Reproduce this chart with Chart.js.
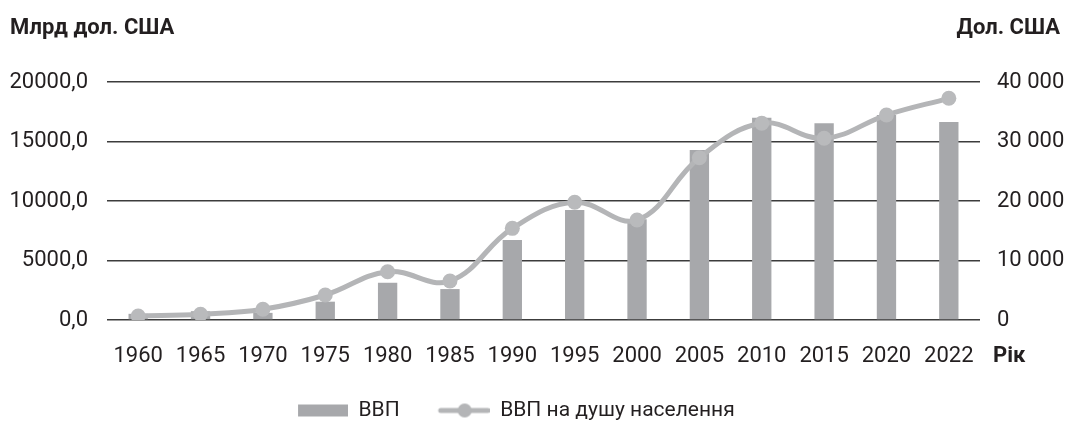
<!DOCTYPE html>
<html>
<head>
<meta charset="utf-8">
<script src="https://cdn.jsdelivr.net/npm/chart.js@4"></script>
<style>
  html, body { margin: 0; padding: 0; background: #fff; }
  #wrap { width: 1067px; height: 422px; }
</style>
</head>
<body>
<div id="wrap"><canvas id="myChart" width="1067" height="422"></canvas></div>
<script>
const years = ['1960','1965','1970','1975','1980','1985','1990','1995','2000','2005','2010','2015','2020','2022'];
const gdp = [520, 740, 600, 1540, 3130, 2600, 6720, 9240, 8460, 14290, 17000, 16530, 17230, 16640];
const gdpPerCapita = [670, 960, 1800, 4200, 8120, 6550, 15400, 19780, 16800, 27280, 33060, 30540, 34450, 37260];
const leftTicks = [0, 5000, 10000, 15000, 20000];
const rightTicks = [0, 10000, 20000, 30000, 40000];

const barColor = '#a7a8ab';
const lineColor = '#b4b5b7';
const gridColor = '#3c3c3c';
const textColor = '#231f20';
const font = 'Roboto';

// legend icons, 80px wide box, mark sits at the right end
function rectIcon(){
    const c = document.createElement('canvas');
    c.width = 80; c.height = 14;
    const g = c.getContext('2d');
    g.fillStyle = barColor;
    g.fillRect(30, 1, 50, 12);
    return c;
}
function lineIcon(){
    const c = document.createElement('canvas');
    c.width = 80; c.height = 16;
    const g = c.getContext('2d');
    g.strokeStyle = lineColor;
    g.lineWidth = 5;
    g.lineCap = 'round';
    g.beginPath(); g.moveTo(31, 8); g.lineTo(78, 8); g.stroke();
    g.fillStyle = lineColor;
    g.beginPath(); g.arc(55, 8, 7, 0, Math.PI * 2); g.fill();
    return c;
}
const icons = [rectIcon(), lineIcon()];

const extraText = {
    id: 'extraText',
    afterDraw(chart){
        const ctx = chart.ctx;
        const a = chart.chartArea;
        ctx.save();
        ctx.fillStyle = textColor;
        ctx.font = 'bold 22px ' + font;
        ctx.textBaseline = 'middle';
        ctx.textAlign = 'left';
        ctx.fillText('Млрд дол. США', 10, 28);
        ctx.textAlign = 'right';
        ctx.fillText('Дол. США', 1060, 28);
        ctx.textAlign = 'left';
        ctx.fillText('Рік', 993, a.bottom + 36);
        ctx.restore();
    }
};

const ctx = document.getElementById('myChart').getContext('2d');
const myChart = new Chart(ctx, {
    type: 'bar',
    data: {
        labels: years,
        datasets: [{
            type: 'bar',
            label: 'ВВП',
            data: gdp,
            backgroundColor: barColor,
            yAxisID: 'y',
            barPercentage: 0.62,
            categoryPercentage: 0.5,
            order: 2
        }, {
            type: 'line',
            label: 'ВВП на душу населення\u2003\u2003\u2003',
            data: gdpPerCapita,
            borderColor: lineColor,
            backgroundColor: lineColor,
            borderWidth: 5,
            pointRadius: 7.5,
            pointBorderWidth: 0,
            pointBackgroundColor: '#b9babc',
            tension: 0.4,
            yAxisID: 'y1',
            order: 1
        }]
    },
    plugins: [extraText],
    options: {
        responsive: false,
        animation: false,
        layout: { padding: { top: 82, bottom: 0, left: 0, right: 0 } },
        plugins: {
            tooltip: { enabled: false },
            legend: {
                position: 'bottom',
                maxHeight: 32,
                labels: {
                    color: textColor,
                    font: { family: font, size: 21 },
                    usePointStyle: true,
                    pointStyleWidth: 80,
                    padding: 10,
                    sort: (a, b) => a.datasetIndex - b.datasetIndex,
                    generateLabels(chart){
                        const items = Chart.defaults.plugins.legend.labels.generateLabels(chart);
                        items.forEach(it => { it.pointStyle = icons[it.datasetIndex]; });
                        return items;
                    }
                }
            }
        },
        scales: {
            x: {
                grid: { display: false, drawTicks: false },
                border: { display: false },
                ticks: { color: textColor, font: { family: font, size: 22 }, padding: 23, maxRotation: 0 },
                afterFit(scale){ scale.height = 70; }
            },
            y: {
                position: 'left',
                min: 0, max: 20000,
                afterBuildTicks(scale){ scale.ticks = leftTicks.map(v => ({ value: v })); },
                grid: { color: gridColor, lineWidth: 1.5, drawTicks: false },
                border: { display: false },
                ticks: {
                    color: textColor,
                    font: { family: font, size: 22 },
                    padding: 19,
                    callback: v => v.toFixed(1).replace('.', ',')
                },
                afterFit(scale){ scale.width = 107; }
            },
            y1: {
                position: 'right',
                min: 0, max: 40000,
                afterBuildTicks(scale){ scale.ticks = rightTicks.map(v => ({ value: v })); },
                grid: { display: false, drawTicks: false },
                border: { display: false },
                ticks: {
                    color: textColor,
                    font: { family: font, size: 22 },
                    padding: 17,
                    callback: v => String(v).replace(/\B(?=(\d{3})+(?!\d))/g, ' ')
                },
                afterFit(scale){ scale.width = 87; }
            }
        }
    }
});
</script>
</body>
</html>
